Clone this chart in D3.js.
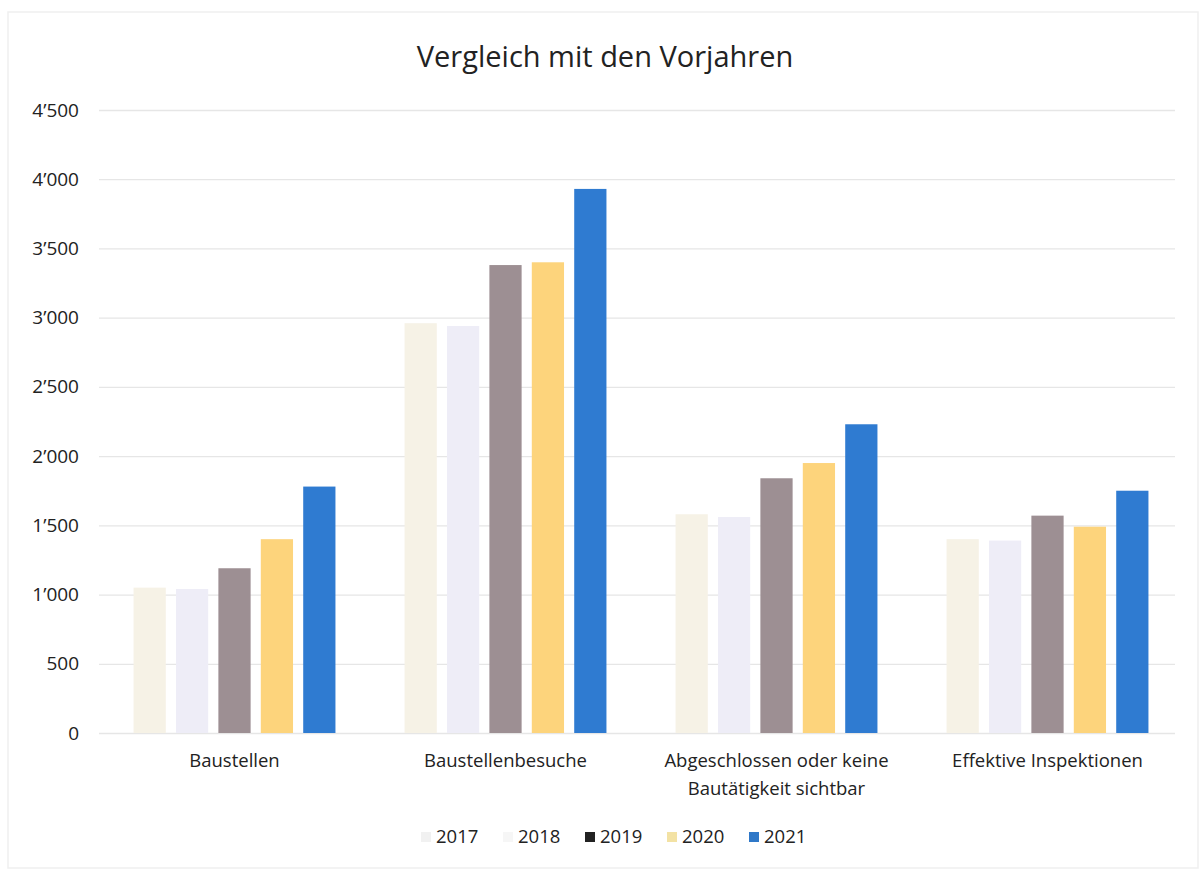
<!DOCTYPE html>
<html>
<head>
<meta charset="utf-8">
<script src="https://cdn.jsdelivr.net/npm/d3@7"></script>
<style>
  body { margin: 0; background: #fff; }
  svg text { font-family: "Open Sans", Lato, sans-serif; fill: #222; }
</style>
</head>
<body>
<svg id="chart"></svg>
<script>
// values
const categories = [
  ['Baustellen'],
  ['Baustellenbesuche'],
  ['Abgeschlossen oder keine', 'Bautätigkeit sichtbar'],
  ['Effektive Inspektionen']
];
const years = ['2017', '2018', '2019', '2020', '2021'];
const values2017 = [1050, 2960, 1580, 1400];
const values2018 = [1040, 2940, 1560, 1390];
const values2019 = [1190, 3380, 1840, 1570];
const values2020 = [1400, 3400, 1950, 1490];
const values2021 = [1780, 3930, 2230, 1750];
const yTicks = [0, 500, 1000, 1500, 2000, 2500, 3000, 3500, 4000, 4500];

const series = [values2017, values2018, values2019, values2020, values2021];
const barColors = ['#f6f2e6', '#eeedf7', '#9d8f93', '#fdd47c', '#2f7bd1'];
const legendColors = ['#f1f1f1', '#f6f6f6', '#222222', '#f3e2a4', '#2f78c8'];

const WIDTH = 1200;
const HEIGHT = 870;
const MARGINS = {left: 99, right: 17, top: 110, bottom: 137};

const svg = d3.select('#chart').attr('width', WIDTH).attr('height', HEIGHT);

// faint page edges from the scan
svg.append('rect')
  .attr('x', 8).attr('y', 12)
  .attr('width', WIDTH - 10).attr('height', HEIGHT - 14)
  .attr('fill', 'none').attr('stroke', '#efefef').attr('stroke-width', 1.5);

const x = d3.scaleBand()
  .domain(categories.map((d, i) => i))
  .range([MARGINS.left, WIDTH - MARGINS.right]);
const xInner = d3.scaleBand()
  .domain(years)
  .range([0, x.bandwidth() * 0.745])
  .paddingInner(0.24);
const y = d3.scaleLinear()
  .domain([0, 4500])
  .range([HEIGHT - MARGINS.bottom, MARGINS.top]);

const locale = d3.formatLocale({decimal: '.', thousands: '\u2019', grouping: [3], currency: ['', '']});
const fmt = locale.format(',');

// gridlines + y labels
const yAxis = svg.append('g')
  .attr('transform', `translate(${MARGINS.left},0)`)
  .call(d3.axisLeft(y).tickValues(yTicks).tickFormat(fmt)
    .tickSize(-(WIDTH - MARGINS.left - MARGINS.right - 8)).tickPadding(20));
yAxis.select('.domain').remove();
yAxis.selectAll('.tick line').attr('stroke', '#e6e6e6').attr('stroke-width', 1.3);
yAxis.selectAll('.tick text').attr('font-size', 19).style('fill', '#222');

// bars
const groups = svg.append('g').selectAll('g')
  .data(categories)
  .join('g')
  .attr('transform', (d, i) => `translate(${x(i) + (x.bandwidth() - xInner.range()[1]) / 2},0)`);

groups.selectAll('rect')
  .data((d, i) => years.map((yr, j) => ({year: yr, value: series[j][i], j})))
  .join('rect')
  .attr('x', d => xInner(d.year))
  .attr('width', xInner.bandwidth())
  .attr('y', d => y(d.value))
  .attr('height', d => y(0) - y(d.value))
  .attr('fill', d => barColors[d.j]);

// category labels
const xLabels = svg.append('g').selectAll('text')
  .data(categories)
  .join('text')
  .attr('x', (d, i) => x(i) + x.bandwidth() / 2)
  .attr('y', y(0) + 34)
  .attr('text-anchor', 'middle')
  .attr('font-size', 18.5);
xLabels.selectAll('tspan')
  .data(d => d)
  .join('tspan')
  .attr('x', function() { return this.parentNode.getAttribute('x'); })
  .attr('dy', (d, i) => i === 0 ? 0 : 28)
  .text(d => d);

// title
svg.append('text')
  .attr('x', 605).attr('y', 67)
  .attr('text-anchor', 'middle')
  .attr('font-size', 29)
  .text('Vergleich mit den Vorjahren');

// legend
const legend = svg.append('g').attr('transform', 'translate(421,843)');
const items = legend.selectAll('g')
  .data(years)
  .join('g')
  .attr('transform', (d, i) => `translate(${i * 82},0)`);
items.append('rect')
  .attr('x', 0).attr('y', -11)
  .attr('width', 10).attr('height', 10)
  .attr('fill', (d, i) => legendColors[i]);
items.append('text')
  .attr('x', 15).attr('y', 0)
  .attr('font-size', 18.5)
  .text(d => d);
</script>
</body>
</html>
